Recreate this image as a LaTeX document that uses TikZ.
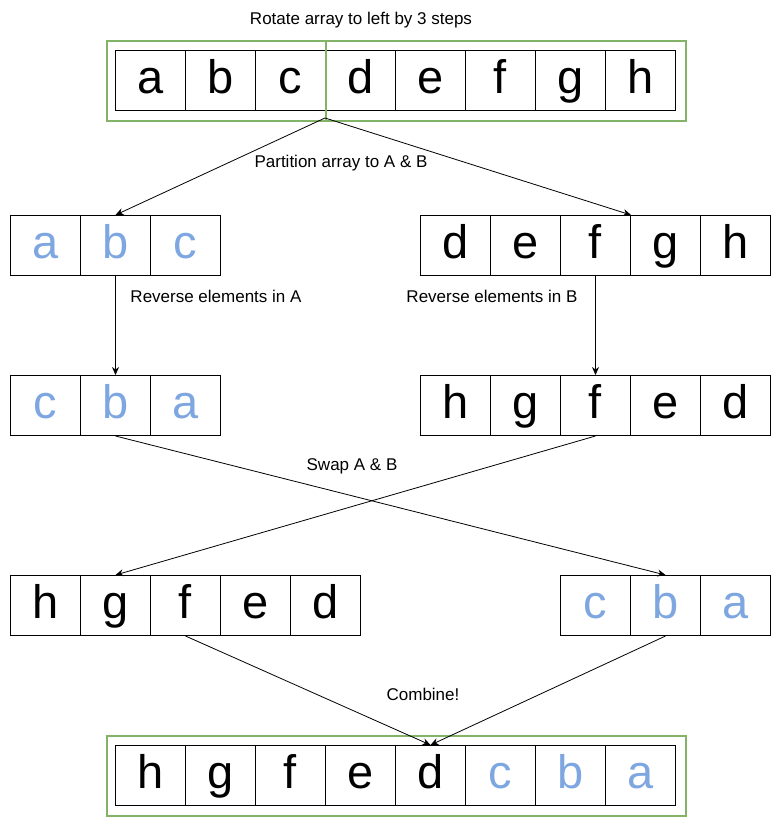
\documentclass[tikz,border=0pt]{standalone}
\usepackage{fontspec}
\setmainfont{Liberation Sans}
\usetikzlibrary{arrows.meta}
\definecolor{blueL}{HTML}{7EA6E0}
\definecolor{greenB}{HTML}{82B366}
\begin{document}
\begin{tikzpicture}[x=1pt,y=-1pt,
 cell/.style={draw, line width=1pt, minimum width=70pt, minimum height=60pt, inner sep=0pt, text height=34pt, text depth=7.5pt, font=\fontsize{47}{47}\selectfont, anchor=north west},
 bl/.style={text=blueL},
 lbl/.style={font=\fontsize{17}{20}\selectfont, inner sep=0pt},
 arr/.style={-{Stealth[length=8pt,width=7pt]}, line width=0.8pt},
 gbox/.style={draw=greenB, line width=2pt, minimum width=579pt, minimum height=80pt, anchor=north west, inner sep=0pt}]
\useasboundingbox (0,0) rectangle (781,827);
% green frames
\node[gbox] (g1) at (106,40) {};
\node[gbox] (g5) at (106,735) {};
% row 1
\foreach \l [count=\i] in {a,b,c,d,e,f,g,h}
  \node[cell] (r1c\i) at ({115+70*(\i-1)},50) {\l};
\coordinate (gd1) at (326,40);
\coordinate (gd2) at (326,120);
\draw[greenB, line width=2pt] (gd1) -- (gd2);
\coordinate (ps) at (325,118);
% row 2
\foreach \l [count=\i] in {a,b,c}
  \node[cell,bl] (r2a\i) at ({10+70*(\i-1)},215) {\l};
\foreach \l [count=\i] in {d,e,f,g,h}
  \node[cell] (r2b\i) at ({420+70*(\i-1)},215) {\l};
% row 3
\foreach \l [count=\i] in {c,b,a}
  \node[cell,bl] (r3a\i) at ({10+70*(\i-1)},375) {\l};
\foreach \l [count=\i] in {h,g,f,e,d}
  \node[cell] (r3b\i) at ({420+70*(\i-1)},375) {\l};
% row 4
\foreach \l [count=\i] in {h,g,f,e,d}
  \node[cell] (r4a\i) at ({10+70*(\i-1)},575) {\l};
\foreach \l [count=\i] in {c,b,a}
  \node[cell,bl] (r4b\i) at ({560+70*(\i-1)},575) {\l};
% row 5
\foreach \l [count=\i] in {h,g,f,e,d}
  \node[cell] (r5c\i) at ({115+70*(\i-1)},745) {\l};
\foreach \l [count=\i] in {c,b,a}
  \node[cell,bl] (r5d\i) at ({465+70*(\i-1)},745) {\l};
% labels
\node[lbl] (l1) at (361,20) {Rotate array to left by 3 steps};
\node[lbl] (l2) at (341,163) {Partition array to A \& B};
\node[lbl] (l3) at (216,296) {Reverse elements in A};
\node[lbl] (l4) at (492,296) {Reverse elements in B};
\node[lbl] (l5) at (352,466) {Swap A \& B};
\node[lbl] (l6) at (423,694) {Combine!};
% connectors
\draw[arr] (ps) -- (r2a2.north);
\draw[arr] (ps) -- (r2b3.north east);
\draw[arr] (r2a2.south) -- (r3a2.north);
\draw[arr] (r2b3.south) -- (r3b3.north);
\draw[arr] (r3a2.south) -- (r4b2.north);
\draw[arr] (r3b3.south) -- (r4a2.north);
\draw[arr] (r4a3.south) -- (r5c5.north);
\draw[arr] (r4b2.south) -- (r5c5.north);
\end{tikzpicture}
\end{document}
